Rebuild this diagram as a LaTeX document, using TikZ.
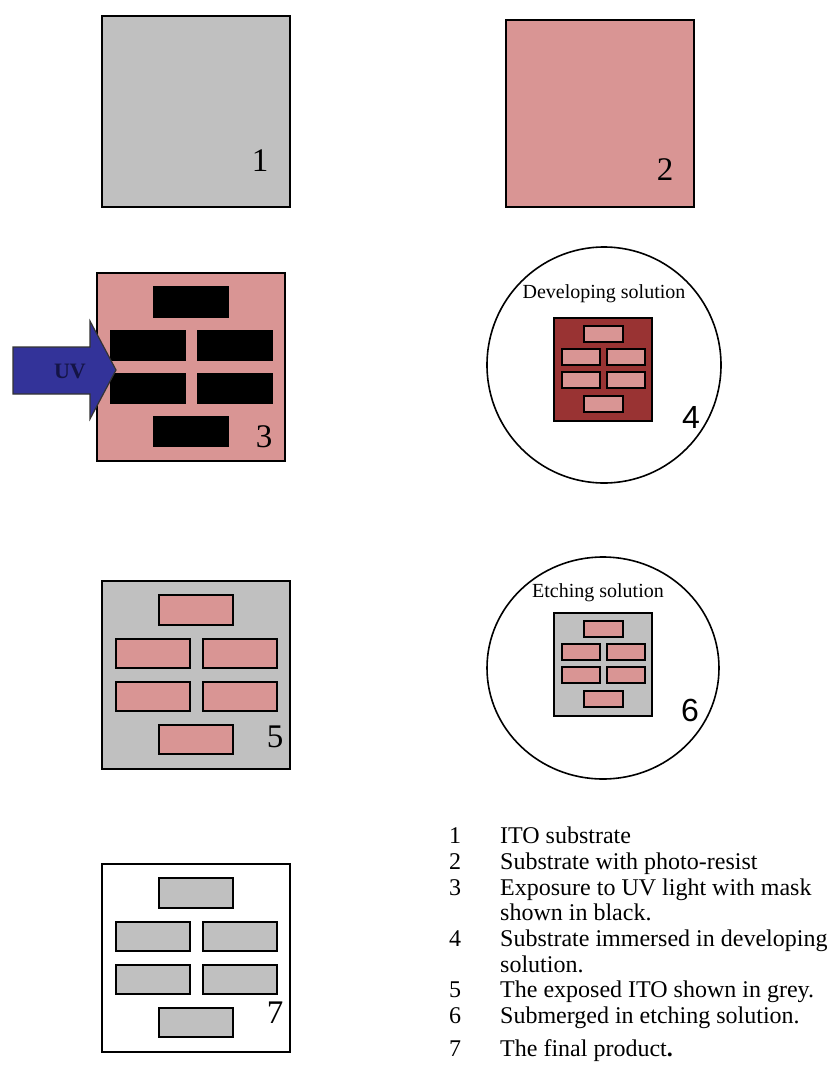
\documentclass[tikz,border=0pt]{standalone}
\usepackage{fontspec}
\setmainfont{Liberation Serif}
\newfontfamily\digitsans{Liberation Sans}
\definecolor{ito}{RGB}{192,192,192}
\definecolor{resist}{RGB}{217,149,148}
\definecolor{devel}{RGB}{153,51,51}
\definecolor{uvblue}{RGB}{51,51,153}
\definecolor{uvtext}{RGB}{20,20,70}
\tikzset{
  plate/.style={draw=black,line width=2pt},
  brick/.style={draw=black,line width=1.8pt},
  smallbrick/.style={draw=black,line width=1.6pt},
  stepnum/.style={anchor=base,inner sep=0pt,font=\fontsize{33}{33}\selectfont},
  tanklabel/.style={anchor=base,inner sep=0pt,font=\fontsize{20}{20}\selectfont},
  legend/.style={anchor=base west,inner sep=0pt,text height=16pt,text depth=5pt,
    font=\fontsize{24}{26}\selectfont},
  bigbricks/.pic={
    \filldraw[brick,pic actions] (57,14) rectangle (131,44);
    \filldraw[brick,pic actions] (14,58) rectangle (88,87);
    \filldraw[brick,pic actions] (101,58) rectangle (175,87);
    \filldraw[brick,pic actions] (14,101) rectangle (88,130);
    \filldraw[brick,pic actions] (101,101) rectangle (175,130);
    \filldraw[brick,pic actions] (57,144) rectangle (131,173);
  },
  smallbricks/.pic={
    \filldraw[smallbrick,fill=resist] (30,8) rectangle (69,24);
    \filldraw[smallbrick,fill=resist] (8,31) rectangle (46,47);
    \filldraw[smallbrick,fill=resist] (53,31) rectangle (91,47);
    \filldraw[smallbrick,fill=resist] (8,54) rectangle (46,70);
    \filldraw[smallbrick,fill=resist] (53,54) rectangle (91,70);
    \filldraw[smallbrick,fill=resist] (30,78) rectangle (69,94);
  }
}
\begin{document}
\begin{tikzpicture}[x=1pt,y=-1pt]
\useasboundingbox (0,0) rectangle (829,1066);

% 1: bare ITO substrate
\filldraw[plate,fill=ito] (102,16) rectangle (290,207);
\node[stepnum] (n1) at (260,171) {1};

% 2: substrate coated with photo-resist
\filldraw[plate,fill=resist] (506,20) rectangle (694,207);
\node[stepnum] (n2) at (665,180) {2};

% 3: exposure through the mask
\filldraw[plate,fill=resist] (97,273) rectangle (285,461);
\pic[fill=black,draw=black] at (97,273) {bigbricks};
\node[stepnum] (n3) at (264,447) {3};
\filldraw[draw=black!80,line width=1.2pt,fill=uvblue]
  (13,347) -- (90,347) -- (90,321) -- (116,370) -- (90,419) -- (90,394) -- (13,394) -- cycle;
\node[anchor=center,inner sep=0pt,text=uvtext,font=\bfseries\fontsize{22}{22}\selectfont] (uv) at (70,371) {UV};

% 4: developing bath
\draw[line width=1.6pt] (604,365) ellipse [x radius=117,y radius=118];
\node[tanklabel] (dev) at (604,298) {Developing solution};
\filldraw[plate,fill=devel] (554,318) rectangle (652,421);
\pic at (554,318) {smallbricks};
\node[stepnum,font=\digitsans\fontsize{32}{32}\selectfont] (n4) at (691,428) {4};

% 5: exposed ITO after development
\filldraw[plate,fill=ito] (102,581) rectangle (290,769);
\pic[fill=resist] at (102,581) {bigbricks};
\node[stepnum] (n5) at (275,747) {5};

% 6: etching bath
\draw[line width=1.6pt] (603,668) ellipse [x radius=116,y radius=111];
\node[tanklabel] (etch) at (598,597) {Etching solution};
\filldraw[plate,fill=ito] (554,613) rectangle (652,716);
\pic at (554,613) {smallbricks};
\node[stepnum,font=\digitsans\fontsize{32}{32}\selectfont] (n6) at (690,721) {6};

% 7: finished pattern
\filldraw[plate,fill=white] (102,864) rectangle (290,1052);
\pic[fill=ito] at (102,864) {bigbricks};
\node[stepnum] (n7) at (275,1023) {7};

% key
\node[legend] (k1) at (449,843) {1};
\node[legend] (t1) at (500,843) {ITO substrate};
\node[legend] (k2) at (449,869) {2};
\node[legend] (t2) at (500,869) {Substrate with photo-resist};
\node[legend] (k3) at (449,895) {3};
\node[legend] (t3) at (500,895) {Exposure to UV light with mask};
\node[legend] (t3b) at (500,920) {shown in black.};
\node[legend] (k4) at (449,946) {4};
\node[legend] (t4) at (500,946) {Substrate immersed in developing};
\node[legend] (t4b) at (500,972) {solution.};
\node[legend] (k5) at (449,997) {5};
\node[legend] (t5) at (500,997) {The exposed ITO shown in grey.};
\node[legend] (k6) at (449,1023) {6};
\node[legend] (t6) at (500,1023) {Submerged in etching solution.};
\node[legend] (k7) at (449,1056) {7};
\node[legend] (t7) at (500,1056) {The final product\textbf{.}};
\end{tikzpicture}
\end{document}
